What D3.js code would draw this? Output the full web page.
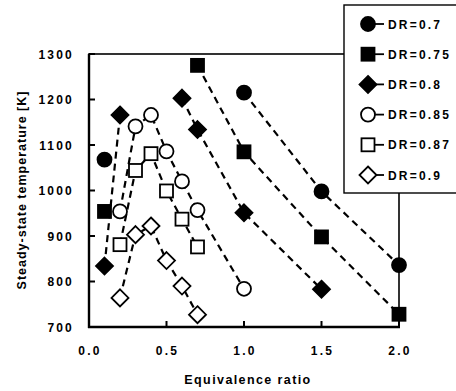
<!DOCTYPE html>
<html>
<head>
<meta charset="utf-8">
<script src="https://cdn.jsdelivr.net/npm/d3@7"></script>
<style>
  body { margin: 0; background: #fff; }
  text { font-family: "Liberation Sans", Arial, sans-serif; font-weight: bold; fill: #000; }
</style>
</head>
<body>
<script>
// equivalence ratio grid shared by all series (null = no measurement, breaks the line)
var phi = [0.1, 0.2, 0.3, 0.4, 0.5, 0.6, 0.7, 1.0, 1.5, 2.0];

var dr70 = [1068, null, null, null, null, null, null, 1215, 998, 836];
var dr75 = [954, null, null, null, null, null, 1275, 1085, 898, 728];
var dr80 = [834, 1166, null, null, null, 1203, 1134, 951, 783, null];
var dr85 = [null, 954, 1141, 1166, 1086, 1020, 957, 784, null, null];
var dr87 = [null, 881, 1044, 1081, 999, 937, 876, null, null, null];
var dr90 = [null, 764, 903, 922, 846, 790, 727, null, null, null];

var seriesNames = ["DR=0.7", "DR=0.75", "DR=0.8", "DR=0.85", "DR=0.87", "DR=0.9"];
var seriesValues = [dr70, dr75, dr80, dr85, dr87, dr90];
var seriesShapes = ["circle", "square", "diamond", "circle", "square", "diamond"];
var seriesFilled = [true, true, true, false, false, false];

var xTicks = [0, 0.5, 1.0, 1.5, 2.0];
var yTicks = [700, 800, 900, 1000, 1100, 1200, 1300];

var width = 456,
    height = 391,
    plotLeft = 89,
    plotRight = 399,
    plotTop = 54,
    plotBottom = 327;

var svg = d3.select("body")
    .append("svg")
    .attr("width", width)
    .attr("height", height);

var x = d3.scaleLinear().domain([0, 2]).range([plotLeft, plotRight]);
var y = d3.scaleLinear().domain([700, 1300]).range([plotBottom, plotTop]);

// frame
svg.append("rect")
    .attr("x", plotLeft).attr("y", plotTop)
    .attr("width", plotRight - plotLeft).attr("height", plotBottom - plotTop)
    .attr("fill", "none").attr("stroke", "#000").attr("stroke-width", 1.6);
svg.append("line")
    .attr("x1", plotLeft).attr("x2", plotLeft).attr("y1", plotTop).attr("y2", plotBottom + 1)
    .attr("stroke", "#000").attr("stroke-width", 2.4);
svg.append("line")
    .attr("x1", plotLeft - 1).attr("x2", plotRight + 1).attr("y1", plotBottom).attr("y2", plotBottom)
    .attr("stroke", "#000").attr("stroke-width", 2.4);

// ticks (inward) and labels
svg.selectAll(".ytick").data(yTicks).enter().append("line")
    .attr("x1", plotLeft).attr("x2", plotLeft + 6)
    .attr("y1", function(d) { return y(d); }).attr("y2", function(d) { return y(d); })
    .attr("stroke", "#000").attr("stroke-width", 2);
svg.selectAll(".ylab").data(yTicks).enter().append("text")
    .attr("x", 74).attr("y", function(d) { return y(d) + 4.5; })
    .attr("text-anchor", "end")
    .style("font-size", "12px").style("letter-spacing", "2.2px")
    .text(function(d) { return d; });

svg.selectAll(".xtick").data(xTicks).enter().append("line")
    .attr("x1", function(d) { return x(d); }).attr("x2", function(d) { return x(d); })
    .attr("y1", plotBottom).attr("y2", plotBottom - 6)
    .attr("stroke", "#000").attr("stroke-width", 2);
svg.selectAll(".xlab").data(xTicks).enter().append("text")
    .attr("x", function(d) { return x(d) + 1; }).attr("y", 355)
    .attr("text-anchor", "middle")
    .style("font-size", "12px").style("letter-spacing", "2.2px")
    .text(function(d) { return d.toFixed(1); });

svg.append("text")
    .attr("x", 248).attr("y", 384)
    .attr("text-anchor", "middle")
    .style("font-size", "12.5px").style("letter-spacing", "1.4px")
    .text("Equivalence ratio");

svg.append("text")
    .attr("transform", "translate(26,190) rotate(-90)")
    .attr("text-anchor", "middle")
    .style("font-size", "12.5px").style("letter-spacing", "1px")
    .text("Steady-state temperature [K]");

// markers
function drawMarker(g, shape, filled, cx, cy) {
    var fill = filled ? "#000" : "#fff";
    if (shape === "circle") {
        g.append("circle").attr("cx", cx).attr("cy", cy).attr("r", 7)
            .attr("fill", fill).attr("stroke", "#000").attr("stroke-width", 1.8);
    } else if (shape === "square") {
        g.append("rect").attr("x", cx - 6.5).attr("y", cy - 6.5)
            .attr("width", 13).attr("height", 13)
            .attr("fill", fill).attr("stroke", "#000").attr("stroke-width", 1.8);
    } else {
        var s = 8.5;
        g.append("path")
            .attr("d", "M" + cx + "," + (cy - s) + "L" + (cx + s) + "," + cy +
                "L" + cx + "," + (cy + s) + "L" + (cx - s) + "," + cy + "Z")
            .attr("fill", fill).attr("stroke", "#000").attr("stroke-width", 1.8);
    }
}

var line = d3.line()
    .defined(function(d) { return d[1] !== null; })
    .x(function(d) { return x(d[0]); })
    .y(function(d) { return y(d[1]); });

seriesValues.forEach(function(vals) {
    var pts = phi.map(function(p, i) { return [p, vals[i]]; });
    svg.append("path")
        .attr("d", line(pts))
        .attr("fill", "none")
        .attr("stroke", "#000")
        .attr("stroke-width", 2.2)
        .attr("stroke-dasharray", "7,5");
});

seriesValues.forEach(function(vals, k) {
    var g = svg.append("g");
    phi.forEach(function(p, i) {
        if (vals[i] !== null) drawMarker(g, seriesShapes[k], seriesFilled[k], x(p), y(vals[i]));
    });
});

// legend
var legend = svg.append("g");
legend.append("rect")
    .attr("x", 344).attr("y", 5).attr("width", 130).attr("height", 188)
    .attr("fill", "#fff").attr("stroke", "#000").attr("stroke-width", 1.4);

var legendY = d3.scalePoint().domain(seriesNames).range([24, 175]);

seriesNames.forEach(function(name, k) {
    var ly = legendY(name);
    legend.append("line")
        .attr("x1", 368).attr("x2", 384).attr("y1", ly).attr("y2", ly)
        .attr("stroke", "#000").attr("stroke-width", 1.8);
    drawMarker(legend, seriesShapes[k], seriesFilled[k], 368, ly);
    legend.append("text")
        .attr("x", 388).attr("y", ly + 4.5)
        .style("font-size", "12px")
        .style("letter-spacing", "2.2px")
        .text(name);
});
</script>
</body>
</html>
